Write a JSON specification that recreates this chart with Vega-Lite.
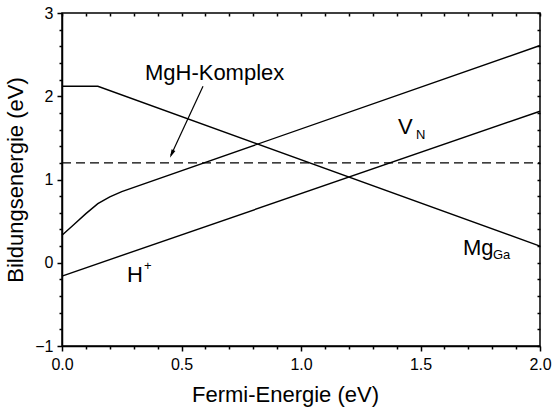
{
  "$schema": "https://vega.github.io/schema/vega-lite/v6.json",
  "width": 478,
  "height": 333,
  "autosize": {"type": "none"},
  "padding": {"left": 62, "top": 13, "right": 13, "bottom": 64},
  "background": "white",
  "config": {
    "view": {"stroke": "black", "strokeWidth": 1.5},
    "axis": {
      "grid": false,
      "domainColor": "black",
      "tickColor": "black",
      "labelColor": "black",
      "titleColor": "black",
      "labelFont": "Liberation Sans",
      "titleFont": "Liberation Sans",
      "labelFontSize": 16,
      "titleFontSize": 22,
      "titleFontWeight": "normal",
      "domainWidth": 1.5,
      "tickWidth": 1.5,
      "labelFlush": false,
      "labelOverlap": false
    }
  },
  "datasets": {
    "curves": [
      {"series": "VN", "x": 0, "y": 0.33},
      {"series": "VN", "x": 0.05, "y": 0.46},
      {"series": "VN", "x": 0.1, "y": 0.59},
      {"series": "VN", "x": 0.15, "y": 0.71},
      {"series": "VN", "x": 0.2, "y": 0.79},
      {"series": "VN", "x": 0.25, "y": 0.855},
      {"series": "VN", "x": 2.0, "y": 2.61},
      {"series": "H", "x": 0, "y": -0.16},
      {"series": "H", "x": 2.0, "y": 1.82},
      {"series": "MgGa", "x": 0, "y": 2.12},
      {"series": "MgGa", "x": 0.15, "y": 2.12},
      {"series": "MgGa", "x": 2.0, "y": 0.2},
      {"series": "MgH", "x": 0, "y": 1.2},
      {"series": "MgH", "x": 2.0, "y": 1.2}
    ],
    "labels": [
      {"text": "MgH-Komplex", "x": 0.347, "y": 2.193, "size": 22},
      {"text": "V", "x": 1.406, "y": 1.552, "size": 22},
      {"text": "N", "x": 1.481, "y": 1.492, "size": 13},
      {"text": "Mg", "x": 1.678, "y": 0.099, "size": 22},
      {"text": "Ga", "x": 1.803, "y": 0.04, "size": 13},
      {"text": "H", "x": 0.272, "y": -0.237, "size": 22},
      {"text": "+", "x": 0.343, "y": -0.093, "size": 13}
    ],
    "arrow": [
      {"x": 0.59, "y": 2.12, "x2": 0.456, "y2": 1.29}
    ],
    "head": [
      {"x": 0.459, "y": 1.306}
    ]
  },
  "layer": [
    {
      "data": {"name": "curves"},
      "transform": [{"filter": "datum.series !== 'MgH'"}],
      "mark": {"type": "line", "color": "black", "strokeWidth": 1.4},
      "encoding": {
        "detail": {"field": "series"},
        "x": {
          "field": "x", "type": "quantitative",
          "scale": {"domain": [0, 2], "nice": false, "zero": false},
          "axis": {
            "orient": "bottom",
            "values": [0, 0.1, 0.2, 0.3, 0.4, 0.5, 0.6, 0.7, 0.8, 0.9, 1, 1.1, 1.2, 1.3, 1.4, 1.5, 1.6, 1.7, 1.8, 1.9, 2],
            "labelExpr": "abs(datum.value * 2 - round(datum.value * 2)) < 0.001 ? format(datum.value, '.1f') : ''",
            "tickSize": {"condition": {"test": "abs(datum.value * 2 - round(datum.value * 2)) < 0.001", "value": 5}, "value": 3},
            "labelPadding": 5,
            "title": "Fermi-Energie (eV)", "titleX": 223, "titlePadding": 12
          }
        },
        "y": {
          "field": "y", "type": "quantitative",
          "scale": {"domain": [-1, 3], "nice": false, "zero": false},
          "axis": {
            "orient": "left",
            "values": [-1, -0.8, -0.6, -0.4, -0.2, 0, 0.2, 0.4, 0.6, 0.8, 1, 1.2, 1.4, 1.6, 1.8, 2, 2.2, 2.4, 2.6, 2.8, 3],
            "labelExpr": "abs(datum.value - round(datum.value)) < 0.001 ? format(datum.value, 'd') : ''",
            "tickSize": {"condition": {"test": "abs(datum.value - round(datum.value)) < 0.001", "value": 5}, "value": 3},
            "labelPadding": 4,
            "title": "Bildungsenergie (eV)", "titlePadding": 7
          }
        }
      }
    },
    {
      "data": {"name": "curves"},
      "transform": [{"filter": "datum.series === 'MgH'"}],
      "mark": {"type": "line", "color": "black", "strokeWidth": 1.4, "strokeDash": [9, 5]},
      "encoding": {
        "x": {"field": "x", "type": "quantitative", "axis": null},
        "y": {"field": "y", "type": "quantitative", "axis": null}
      }
    },
    {
      "data": {"name": "labels"},
      "mark": {"type": "text", "align": "left", "baseline": "alphabetic", "font": "Liberation Sans", "color": "black"},
      "encoding": {
        "text": {"field": "text"},
        "size": {"field": "size", "type": "quantitative", "scale": null},
        "x": {
          "field": "x", "type": "quantitative",
          "axis": {"orient": "top", "offset": -3, "values": [0, 0.1, 0.2, 0.3, 0.4, 0.5, 0.6, 0.7, 0.8, 0.9, 1, 1.1, 1.2, 1.3, 1.4, 1.5, 1.6, 1.7, 1.8, 1.9, 2], "tickSize": 3, "labels": false, "domain": false, "title": null}
        },
        "y": {
          "field": "y", "type": "quantitative",
          "axis": {"orient": "right", "offset": -3, "values": [-1, -0.8, -0.6, -0.4, -0.2, 0, 0.2, 0.4, 0.6, 0.8, 1, 1.2, 1.4, 1.6, 1.8, 2, 2.2, 2.4, 2.6, 2.8, 3], "tickSize": 3, "labels": false, "domain": false, "title": null}
        }
      }
    },
    {
      "data": {"name": "arrow"},
      "mark": {"type": "rule", "color": "black", "strokeWidth": 1.2},
      "encoding": {
        "x": {"field": "x", "type": "quantitative", "axis": null},
        "y": {"field": "y", "type": "quantitative", "axis": null},
        "x2": {"field": "x2"},
        "y2": {"field": "y2"}
      }
    },
    {
      "data": {"name": "head"},
      "mark": {"type": "point", "shape": "M0,-1L0.5,1L-0.5,1Z", "filled": true, "color": "black", "opacity": 1, "size": 70, "angle": 205},
      "encoding": {
        "x": {"field": "x", "type": "quantitative", "axis": null},
        "y": {"field": "y", "type": "quantitative", "axis": null}
      }
    }
  ],
  "resolve": {"axis": {"x": "independent", "y": "independent"}}
}
